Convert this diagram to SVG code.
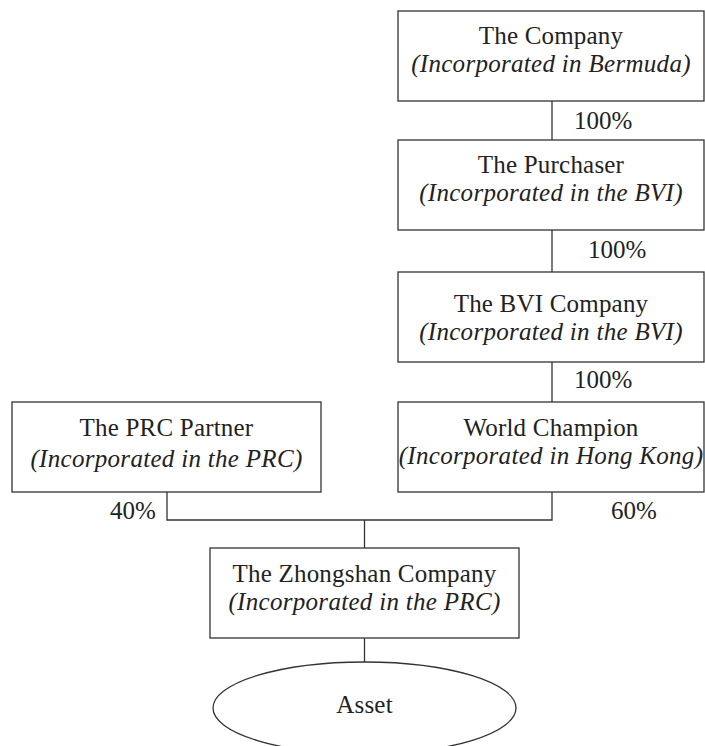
<svg xmlns="http://www.w3.org/2000/svg" width="705" height="746" viewBox="0 0 705 746">
<style>
.box{fill:#fff;stroke:#333;stroke-width:1.3}
text{font-family:"Liberation Serif","Times New Roman",Times,serif;font-size:25px;fill:#222}
.t{text-anchor:middle;letter-spacing:0.2px}
.i{font-style:italic;letter-spacing:0.3px}
.ln{fill:none;stroke:#333;stroke-width:1.3}
</style>
<rect width="705" height="746" fill="#fff"/>
<g id="connectors">
<line class="ln" x1="552" y1="101" x2="552" y2="140"/>
<line class="ln" x1="552" y1="230" x2="552" y2="272"/>
<line class="ln" x1="552" y1="362" x2="552" y2="402"/>
<polyline class="ln" points="167,492 167,520 552,520 552,492"/>
<line class="ln" x1="364.5" y1="520" x2="364.5" y2="548"/>
<line class="ln" x1="364.5" y1="638" x2="364.5" y2="662"/>
<text x="574" y="129">100%</text>
<text x="588" y="258">100%</text>
<text x="574" y="388">100%</text>
<text x="110" y="519">40%</text>
<text x="611" y="519">60%</text>
</g>
<g id="company">
<rect class="box" x="398" y="11" width="306" height="90"/>
<text class="t" x="551" y="44">The Company</text>
<text class="t i" x="551" y="72">(Incorporated in Bermuda)</text>
</g>
<g id="purchaser">
<rect class="box" x="398" y="140" width="306" height="90"/>
<text class="t" x="551" y="173">The Purchaser</text>
<text class="t i" x="551" y="201">(Incorporated in the BVI)</text>
</g>
<g id="bvi">
<rect class="box" x="398" y="272" width="306" height="90"/>
<text class="t" x="551" y="312">The BVI Company</text>
<text class="t i" x="551" y="340">(Incorporated in the BVI)</text>
</g>
<g id="worldchampion">
<rect class="box" x="398" y="402" width="306" height="90"/>
<text class="t" x="551" y="436">World Champion</text>
<text class="t i" x="551" y="464">(Incorporated in Hong Kong)</text>
</g>
<g id="prcpartner">
<rect class="box" x="12" y="402" width="309" height="90"/>
<text class="t" x="166.5" y="436">The PRC Partner</text>
<text class="t i" x="166.5" y="467">(Incorporated in the PRC)</text>
</g>
<g id="zhongshan">
<rect class="box" x="210" y="548" width="309" height="90"/>
<text class="t" x="364.5" y="582">The Zhongshan Company</text>
<text class="t i" x="364.5" y="610">(Incorporated in the PRC)</text>
</g>
<g id="asset">
<ellipse class="box" cx="364.5" cy="708" rx="151.5" ry="46"/>
<text class="t" x="364.5" y="713">Asset</text>
</g>
</svg>
